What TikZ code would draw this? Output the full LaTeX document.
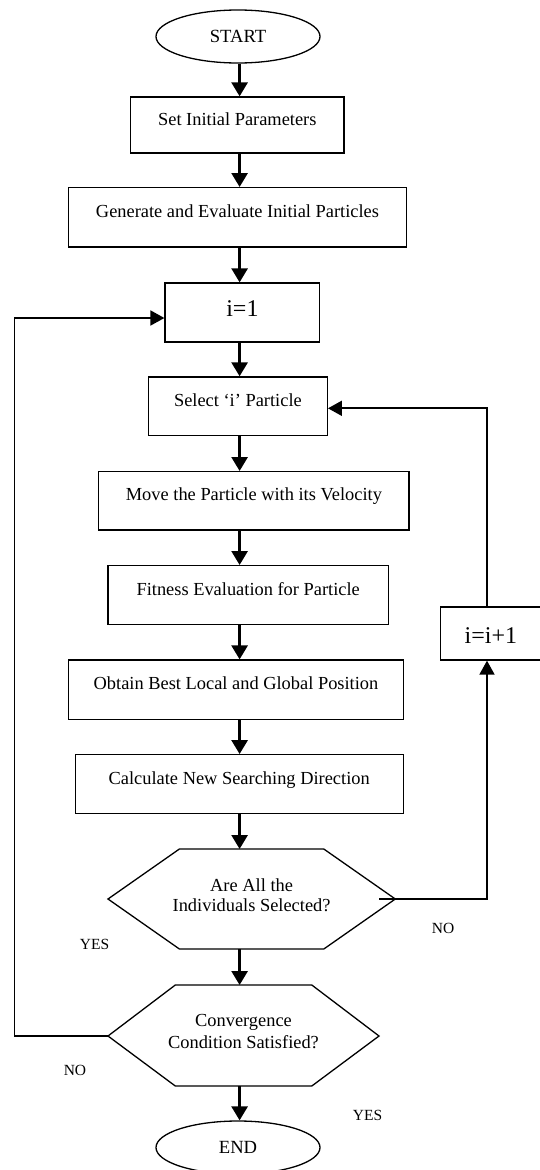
\documentclass[tikz,border=0pt]{standalone}
\usepackage{fontspec}
\setmainfont{Liberation Serif}
\usetikzlibrary{arrows.meta,calc,shapes.geometric}
\begin{document}
\begin{tikzpicture}[x=1pt,y=-1pt,
  box/.style={draw, line width=1.3pt, inner sep=0pt, font=\fontsize{18.4}{21}\selectfont, text height=10pt, text depth=10pt},
  bigbox/.style={box, font=\fontsize{24}{26}\selectfont},
  term/.style={draw, ellipse, line width=1.3pt, minimum width=164pt, minimum height=53pt, inner sep=0pt, font=\fontsize{18.6}{21}\selectfont},
  arr/.style={line width=2.8pt, -{Triangle[width=16pt,length=14pt]}},
  looparr/.style={line width=1.8pt, -{Triangle[width=15pt,length=14pt]}},
  hexline/.style={line width=1.3pt, line join=miter},
  lbl/.style={anchor=base, inner sep=0pt, font=\fontsize{15.5}{18}\selectfont},
  hext/.style={align=center, inner sep=0pt}]
\useasboundingbox (0,0) rectangle (539,1170);
\coordinate (X) at (239.6,0);
\coordinate (R) at (487,0);
\coordinate (L) at (14.5,0);
% terminals and boxes
\node[term] (start) at (238,36.5) {START};
\node[box, minimum width=213.4pt, minimum height=56pt] (init) at (237.3,125) {Set Initial Parameters};
\node[box, minimum width=337.5pt, minimum height=59.3pt] (gen) at (237.5,217.3) {Generate and Evaluate Initial Particles};
\node[bigbox, minimum width=154.7pt, minimum height=59pt, text height=12pt, text depth=3.6pt] (i1) at (242.4,312.5) {i=1};
\node[box, minimum width=178.8pt, minimum height=58.7pt] (sel) at (237.9,406.3) {Select ‘i’ Particle};
\node[box, minimum width=310.3pt, minimum height=58.3pt] (move) at (253.9,500.8) {Move the Particle with its Velocity};
\node[box, minimum width=280.5pt, minimum height=58.7pt] (fit) at (248.2,595) {Fitness Evaluation for Particle};
\node[box, minimum width=334.4pt, minimum height=59.3pt] (obt) at (236,689.7) {Obtain Best Local and Global Position};
\node[box, minimum width=327.9pt, minimum height=59pt] (calc) at (239.2,784.2) {Calculate New Searching Direction};
\node[bigbox, minimum width=100.3pt, minimum height=53pt, text height=20pt, text depth=0.4pt] (inc) at (490.9,633.5) {i=i+1};
\node[term] (endn) at (238,1147.5) {END};
% hexagon 1
\coordinate (h1W) at (108,899);
\coordinate (h1NW) at (179.4,849);
\coordinate (h1NE) at (323.8,849);
\coordinate (h1E) at (395.3,899);
\coordinate (h1SE) at (323.8,949);
\coordinate (h1SW) at (179.4,949);
\draw[hexline] (h1W) -- (h1NW) -- (h1NE) -- (h1E) -- (h1SE) -- (h1SW) -- cycle;
\node[hext, font=\fontsize{18.4}{20}\selectfont] (h1t) at (251.6,895.4) {Are All the\\Individuals Selected?};
% hexagon 2
\coordinate (h2W) at (108,1036);
\coordinate (h2NW) at (175.3,985);
\coordinate (h2NE) at (311.8,985);
\coordinate (h2E) at (379,1036);
\coordinate (h2SE) at (311.8,1086);
\coordinate (h2SW) at (175.3,1086);
\draw[hexline] (h2W) -- (h2NW) -- (h2NE) -- (h2E) -- (h2SE) -- (h2SW) -- cycle;
\node[hext, font=\fontsize{18.4}{21.7}\selectfont] (h2t) at (243.5,1031.6) {Convergence\\Condition Satisfied?};
% main flow
\draw[arr] (start.south -| X) -- (init.north -| X);
\draw[arr] (init.south -| X) -- (gen.north -| X);
\draw[arr] (gen.south -| X) -- (i1.north -| X);
\draw[arr] (i1.south -| X) -- (sel.north -| X);
\draw[arr] (sel.south -| X) -- (move.north -| X);
\draw[arr] (move.south -| X) -- (fit.north -| X);
\draw[arr] (fit.south -| X) -- (obt.north -| X);
\draw[arr] (obt.south -| X) -- (calc.north -| X);
\draw[arr] (calc.south -| X) -- (X |- h1NW);
\draw[arr] (X |- h1SW) -- (X |- h2NW);
\draw[arr] (X |- h2SW) -- (endn.north -| X);
% right loop
\coordinate (h1tick) at (379,899);
\coordinate (selin) at ([yshift=-2pt]sel.east);
\draw[looparr] (h1tick) -- (R |- h1E) -- (inc.south -| R);
\draw[looparr] (inc.north -| R) -- (R |- selin) -- (selin);
% left loop
\coordinate (i1in) at ([yshift=-5.5pt]i1.west);
\draw[looparr] (h2W) -- (L |- h2W) -- (L |- i1in) -- (i1in);
% labels
\node[lbl] (y1) at (94.5,949) {YES};
\node[lbl] (n1) at (443,933) {NO};
\node[lbl] (n2) at (75,1075) {NO};
\node[lbl] (y2) at (367.5,1120) {YES};
\end{tikzpicture}
\end{document}
